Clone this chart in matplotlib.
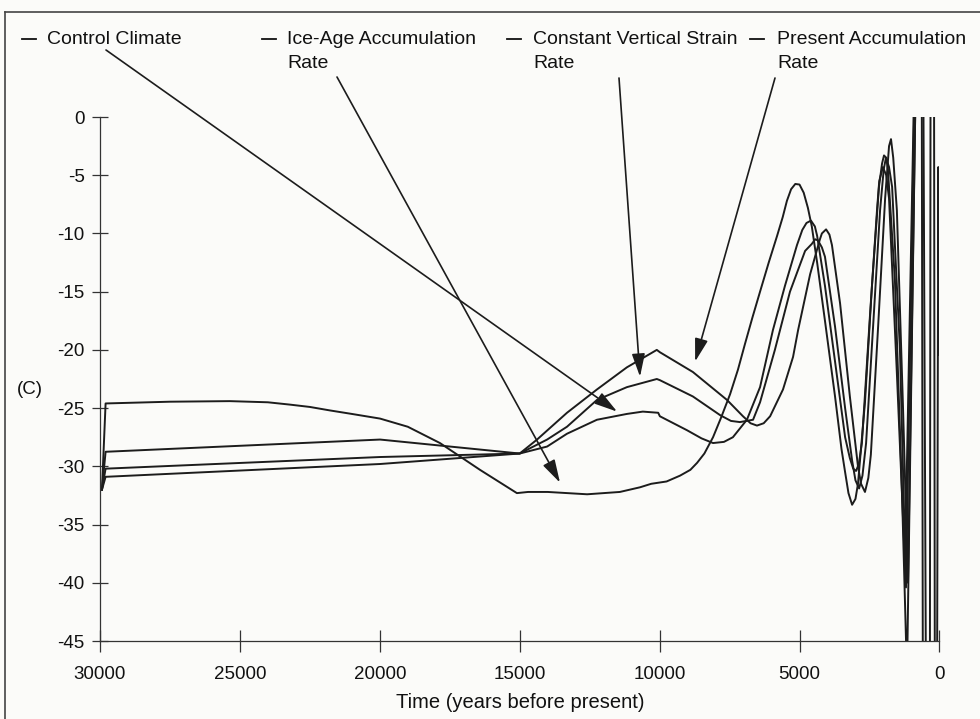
import numpy as np
import matplotlib
matplotlib.use("Agg")
import matplotlib.pyplot as plt
from matplotlib.lines import Line2D

plt.rcParams['font.family'] = ['Liberation Sans', 'DejaVu Sans']

# --- data (years before present, deg C) ---
ice_yr = [29930, 29800, 27500, 25360, 24000, 23210, 22500, 21780, 21000, 19990,
          19000, 17850, 16420, 15100, 14700, 14000, 12590, 11420, 10700, 10300,
          9750, 9270, 8900, 8660, 8400, 8090, 7800, 7480, 7200, 6950,
          6680, 6410, 6100, 5800, 5600, 5450, 5300, 5150, 5000, 4850,
          4700, 4560, 4370, 4090, 3730, 3500, 3370, 3250, 3120, 3000,
          2910, 2660, 2410, 2160, 2050, 1980, 1900, 1840, 1590, 1340,
          1158, 854, 818]
ice_val = [-32.0, -24.6, -24.45, -24.4, -24.5, -24.7, -24.9, -25.2, -25.5, -25.9,
           -26.6, -28.0, -30.3, -32.3, -32.2, -32.2, -32.4, -32.2, -31.8, -31.5,
           -31.3, -30.8, -30.3, -29.7, -28.9, -27.5, -25.8, -23.8, -21.7, -19.5,
           -17.2, -15.0, -12.5, -10.2, -8.6, -7.2, -6.2, -5.75, -5.8, -6.5,
           -7.8, -9.4, -12.5, -17.5, -24.0, -28.5, -30.5, -32.3, -33.3, -32.8,
           -31.5, -24.5, -14.5, -6.0, -4.0, -3.3, -3.5, -4.5, -14.0, -32.0,
           -48.0, 2.0, 60.0]

ctl_yr = [29930, 29800, 19990, 15000, 14020, 13310, 12240, 11170, 10600, 10050,
          9990, 9020, 8500, 8090, 7700, 7380, 6880, 6410, 5950, 5520,
          5090, 4900, 4750, 4590, 4450, 4370, 4090, 3730, 3370, 3200,
          3080, 2980, 2880, 2770, 2480, 2230, 2150, 2020, 1900, 1800,
          1520, 1229, 908, 872, 658, 568]
ctl_val = [-32.0, -30.9, -29.8, -28.9, -28.3, -27.2, -26.0, -25.5, -25.3, -25.4,
           -25.7, -26.9, -27.6, -28.0, -27.9, -27.5, -26.0, -23.2, -18.3, -14.5,
           -11.0, -9.7, -9.1, -8.9, -9.4, -10.2, -14.5, -21.0, -27.5, -29.3,
           -30.2, -30.4, -29.8, -28.0, -17.0, -8.0, -5.5, -4.3, -5.0, -7.0,
           -22.0, -38.5, 2.0, 40.0, 40.0, -80.0]

cvs_yr = [29930, 29800, 19990, 15000, 14020, 13310, 12240, 11170, 10100, 9990,
          8810, 7840, 7450, 7130, 6660, 6410, 5880, 5340, 4800, 4560,
          4440, 4340, 4200, 4090, 3730, 3370, 3120, 3000, 2870, 2750,
          2620, 2370, 2120, 1990, 1910, 1800, 1690, 1410, 1194, 890,
          854, 640, 425, 354, 300]
cvs_val = [-32.0, -30.2, -29.2, -28.9, -27.7, -26.6, -24.3, -23.2, -22.5, -22.6,
           -24.0, -25.6, -26.1, -26.2, -26.0, -24.5, -20.0, -15.0, -11.5, -10.9,
           -10.5, -10.6, -11.2, -12.0, -18.0, -25.0, -29.5, -31.2, -31.9, -30.8,
           -28.0, -18.0, -8.0, -4.5, -3.5, -4.3, -6.0, -20.0, -40.4, 2.0,
           40.0, 40.0, -80.0, -80.0, 40.0]

pre_yr = [29930, 29800, 19990, 15000, 14380, 13310, 12240, 11170, 10100, 9990,
          8810, 7590, 7020, 6750, 6520, 6280, 6050, 5590, 5230, 5050,
          4620, 4270, 4200, 4050, 3930, 3840, 3550, 3200, 2910, 2800,
          2660, 2540, 2450, 2190, 1940, 1800, 1730, 1650, 1520, 1300,
          1122, 854, 818, 211, 147, 114, 39, 0]
pre_val = [-32.0, -28.75, -27.7, -28.9, -27.7, -25.4, -23.4, -21.5, -20.0, -20.2,
           -21.9, -24.3, -25.7, -26.3, -26.5, -26.3, -25.7, -23.4, -20.6, -18.3,
           -13.5, -10.5, -10.0, -9.65, -10.1, -11.0, -16.0, -24.0, -30.0, -31.5,
           -32.2, -31.0, -29.0, -18.0, -7.0, -2.5, -1.9, -3.5, -8.0, -25.0,
           -40.0, 2.0, 40.0, 40.0, -80.0, -80.0, -4.3, -20.4]

labels = ["Control Climate", "Ice-Age Accumulation", "Constant Vertical Strain",
          "Present Accumulation"]
# where each leader arrow touches its curve (year, value)
arrow_tips = [(11520, -25.3), (13560, -31.4), (10700, -22.3), (8730, -21.0)]

x_ticks = [30000, 25000, 20000, 15000, 10000, 5000, 0]
y_ticks = [0, -5, -10, -15, -20, -25, -30, -35, -40, -45]

W, H = 980, 719
fig = plt.figure(figsize=(W / 100, H / 100), dpi=100)
fig.patch.set_facecolor('#fbfbf9')

ax = fig.add_axes([100 / W, 1 - 641 / H, 839.4 / W, 524 / H])
ax.set_facecolor('none')

lc = '#1c1c1c'
for xs, ys in [(ice_yr, ice_val), (ctl_yr, ctl_val), (cvs_yr, cvs_val), (pre_yr, pre_val)]:
    ax.plot(xs, ys, color=lc, lw=1.4, solid_joinstyle='round')

ax.set_xlim(30000, 0)
ax.set_ylim(-45, 0)
ax.set_xticks(x_ticks)
ax.set_yticks(y_ticks)
ax.set_xticklabels([str(t) for t in x_ticks])
ax.set_yticklabels([str(t) for t in y_ticks])
for s in ['top', 'right']:
    ax.spines[s].set_visible(False)
for s in ['left', 'bottom']:
    ax.spines[s].set_linewidth(0.9)
    ax.spines[s].set_color('#333333')
ax.tick_params(axis='x', direction='inout', length=16, width=0.9, pad=10,
               labelsize=13.5, colors='#333333', labelcolor='#111111')
ax.tick_params(axis='y', direction='inout', length=12, width=0.9, pad=5,
               labelsize=13.5, colors='#333333', labelcolor='#111111')

fig.text(520 / W, 1 - 703 / H, "Time (years before present)", ha='center', va='center',
         fontsize=14.5, color='#111111')
fig.text(17 / W, 1 - 390 / H, "(C)", ha='left', va='center', fontsize=13.5, color='#111111')

# labels with leader arrows
dash_x = [22, 262, 507, 750]
text_x = [47, 287, 533, 777]
tails = [(106, 50), (337, 77), (619, 78), (775, 78)]
for i, name in enumerate(labels):
    fig.add_artist(Line2D([dash_x[i] / W, (dash_x[i] + 14) / W], [1 - 39 / H, 1 - 39 / H],
                          transform=fig.transFigure, color='#111111', lw=1.3))
    fig.text(text_x[i] / W, 1 - 40 / H, name, ha='left', va='center',
             fontsize=14, color='#111111')
    if i > 0:
        fig.text(text_x[i] / W, 1 - 63 / H, "Rate", ha='left', va='center',
                 fontsize=14, color='#111111')
    ax.annotate('', xy=arrow_tips[i], xycoords='data',
                xytext=(tails[i][0] / W, 1 - tails[i][1] / H), textcoords='figure fraction',
                arrowprops=dict(arrowstyle='-|>,head_length=0.7,head_width=0.2',
                                color=lc, lw=1.2, mutation_scale=20,
                                shrinkA=0, shrinkB=0),
                annotation_clip=False)

# outer frame of the scanned figure
fig.add_artist(Line2D([5 / W, 1.0], [1 - 12 / H, 1 - 12 / H], transform=fig.transFigure,
                      color='#444444', lw=1.2))
fig.add_artist(Line2D([5 / W, 5 / W], [0, 1 - 12 / H], transform=fig.transFigure,
                      color='#444444', lw=1.2))

fig.savefig("out.png", dpi=100, facecolor=fig.get_facecolor())
